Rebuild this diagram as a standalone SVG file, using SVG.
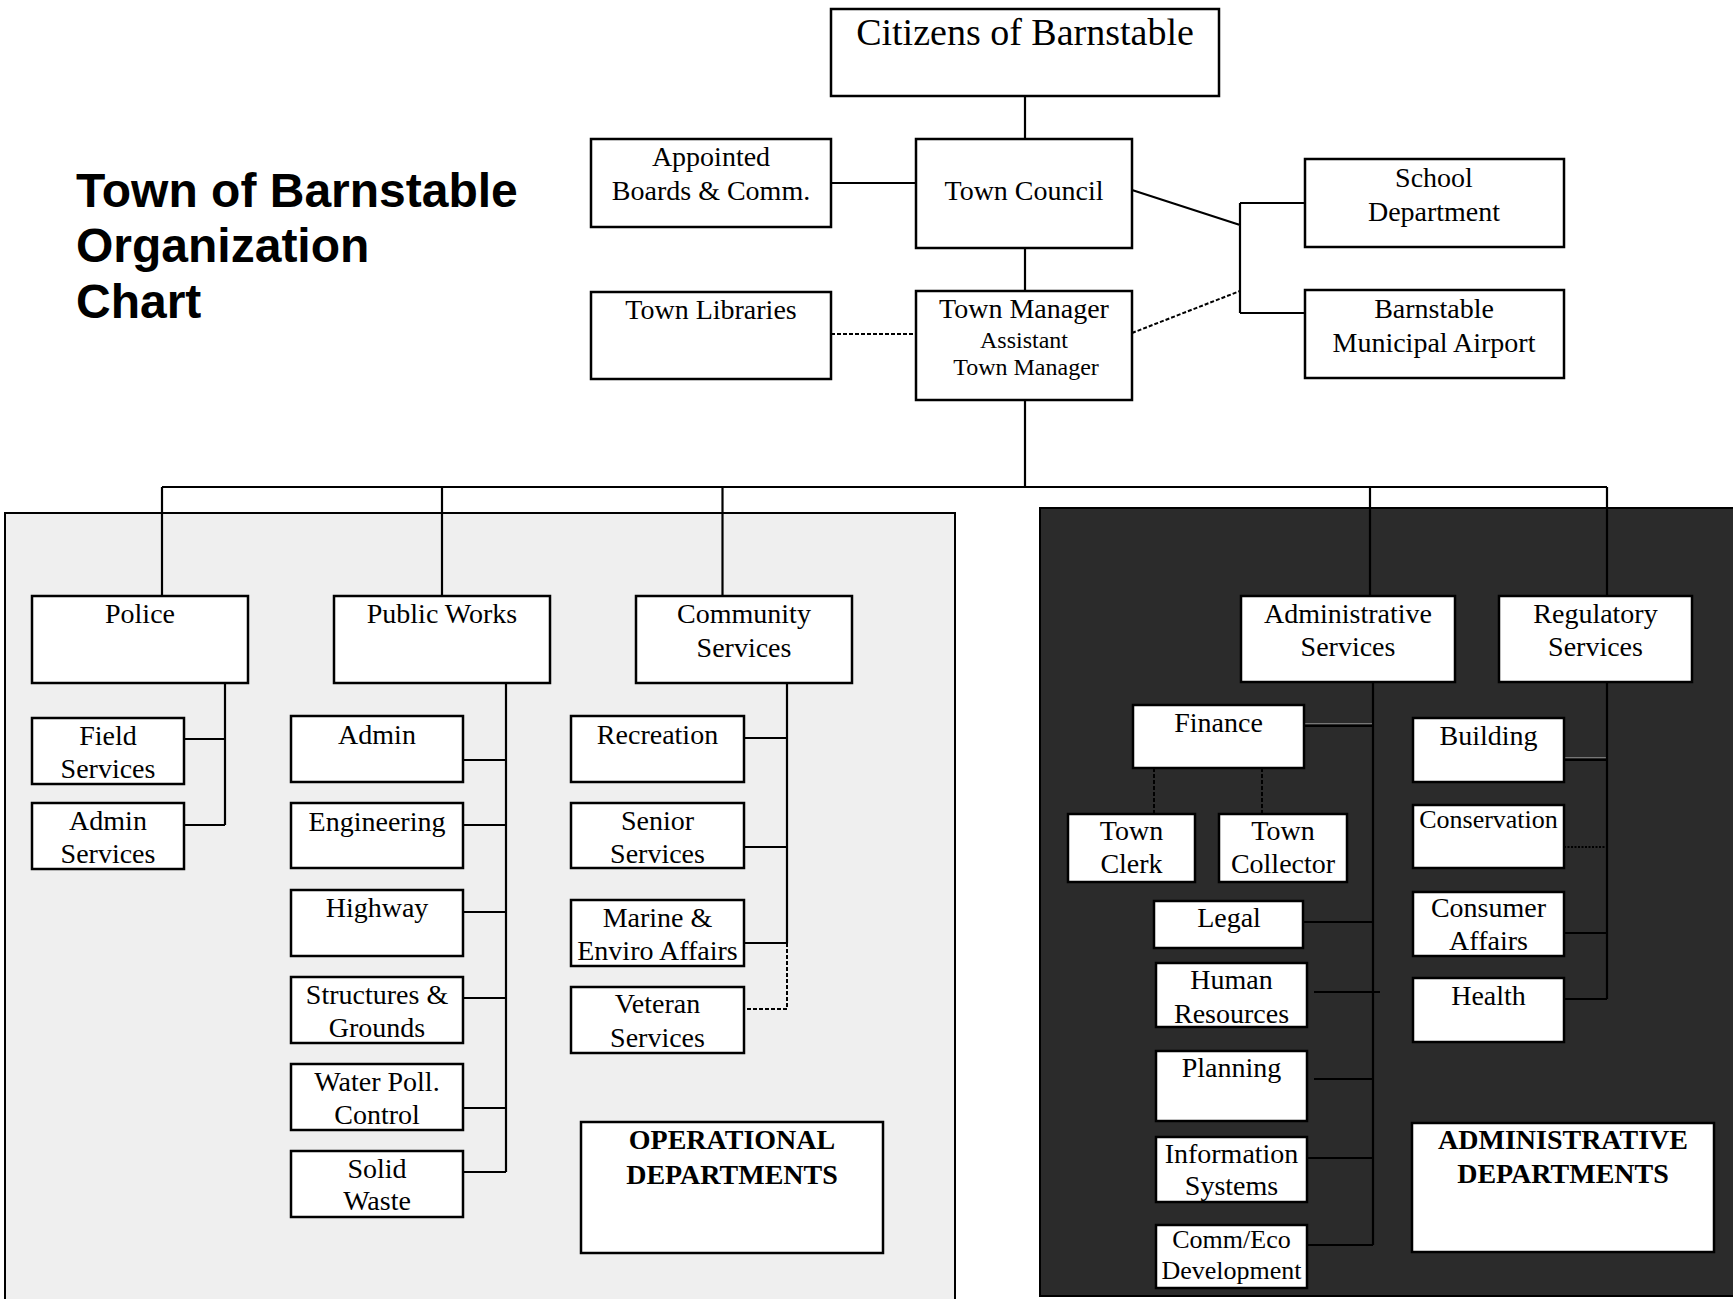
<svg xmlns="http://www.w3.org/2000/svg" width="1733" height="1299" viewBox="0 0 1733 1299">
<style>
.bx{fill:#fff;stroke:#000;stroke-width:2.5}
.t{font-family:"Liberation Serif","Times New Roman",serif;font-size:28px;fill:#000;text-anchor:middle}
.s{font-size:24px}
.m{font-size:26px}
.b{font-weight:bold}
.ln{fill:none;stroke:#000;stroke-width:2.2}
.dl{fill:none;stroke:#000;stroke-width:2;stroke-dasharray:4 2}
.hl{fill:none;stroke:#777;stroke-width:1}
.dt{fill:none;stroke:#000;stroke-width:2;stroke-dasharray:2 1.5}
.title{font-family:"Liberation Sans",Arial,sans-serif;font-weight:bold;font-size:48px;fill:#000}
</style>
<rect width="1733" height="1299" fill="#fff"/>
<g id="panels">
<rect x="5" y="513" width="950" height="800" fill="#efefef" stroke="#000" stroke-width="2"/>
<rect x="1040" y="508" width="710" height="788" fill="#2b2b2b" stroke="#000" stroke-width="2"/>
</g>
<g id="title">
<text class="title" x="76" y="207">Town of Barnstable</text>
<text class="title" x="76" y="262">Organization</text>
<text class="title" x="76" y="318">Chart</text>
</g>
<g id="connectors">
<path class="ln" d="M1025 97V139M831 183H916M1025 248V291M1132 190L1240 225M1240 203V313M1240 203H1305M1240 313H1305"/>
<path class="dl" d="M831 334H916M1132 333L1240 291"/>
<path class="ln" d="M1025 400V487M162 487H1607M162 487V596M442 487V596M722.5 487V596M1370 487V596M1607 487V596"/>
<path class="ln" d="M225 683V825M184 739H225M184 825H225"/>
<path class="ln" d="M506 683V1172M463 760H506M463 825H506M463 912H506M463 998H506M463 1108H506M463 1172H506"/>
<path class="ln" d="M787 683V943M744 738H787M744 847H787M744 943H787"/>
<path class="dl" d="M787 943V1009H744"/>
<path class="ln" d="M1373 682V1245M1303 922H1373M1314 992H1380M1314 1079H1373M1307 1158H1373M1307 1245H1373"/>
<path class="hl" d="M1305 723.5H1372M1565 757.5H1606"/>
<path class="ln" d="M1304 726H1373M1564 760H1607"/>
<path class="dl" d="M1154 768V814M1262 768V814"/>
<path class="ln" d="M1607 682V999M1564 933H1607M1564 999H1607"/>
<path class="dt" d="M1564 847H1607"/>
</g>
<g id="citizens"><rect class="bx" x="831" y="9" width="388" height="87"/><text class="t" x="1025" y="45" style="font-size:38px">Citizens of Barnstable</text></g>
<g id="appointed"><rect class="bx" x="591" y="139" width="240" height="88"/><text class="t" x="711" y="166">Appointed</text><text class="t" x="711" y="200">Boards &amp; Comm.</text></g>
<g id="council"><rect class="bx" x="916" y="139" width="216" height="109"/><text class="t" x="1024" y="200">Town Council</text></g>
<g id="libraries"><rect class="bx" x="591" y="292" width="240" height="87"/><text class="t" x="711" y="319">Town Libraries</text></g>
<g id="manager"><rect class="bx" x="916" y="291" width="216" height="109"/><text class="t" x="1024" y="318">Town Manager</text><text class="t s" x="1024" y="348">Assistant</text><text class="t s" x="1026" y="375">Town Manager</text></g>
<g id="school"><rect class="bx" x="1305" y="159" width="259" height="88"/><text class="t" x="1434" y="187">School</text><text class="t" x="1434" y="221">Department</text></g>
<g id="airport"><rect class="bx" x="1305" y="290" width="259" height="88"/><text class="t" x="1434" y="318">Barnstable</text><text class="t" x="1434" y="352">Municipal Airport</text></g>
<g id="police"><rect class="bx" x="32" y="596" width="216" height="87"/><text class="t" x="140" y="623">Police</text></g>
<g id="publicworks"><rect class="bx" x="334" y="596" width="216" height="87"/><text class="t" x="442" y="623">Public Works</text></g>
<g id="community"><rect class="bx" x="636" y="596" width="216" height="87"/><text class="t" x="744" y="623">Community</text><text class="t" x="744" y="657">Services</text></g>
<g id="field"><rect class="bx" x="32" y="718" width="152" height="66"/><text class="t" x="108" y="745">Field</text><text class="t" x="108" y="778">Services</text></g>
<g id="adminsvc"><rect class="bx" x="32" y="803" width="152" height="66"/><text class="t" x="108" y="830">Admin</text><text class="t" x="108" y="863">Services</text></g>
<g id="pwadmin"><rect class="bx" x="291" y="716" width="172" height="66"/><text class="t" x="377" y="744">Admin</text></g>
<g id="engineering"><rect class="bx" x="291" y="803" width="172" height="65"/><text class="t" x="377" y="831">Engineering</text></g>
<g id="highway"><rect class="bx" x="291" y="890" width="172" height="66"/><text class="t" x="377" y="917">Highway</text></g>
<g id="structures"><rect class="bx" x="291" y="977" width="172" height="66"/><text class="t" x="377" y="1004">Structures &amp;</text><text class="t" x="377" y="1037">Grounds</text></g>
<g id="water"><rect class="bx" x="291" y="1064" width="172" height="66"/><text class="t" x="377" y="1091">Water Poll.</text><text class="t" x="377" y="1124">Control</text></g>
<g id="solid"><rect class="bx" x="291" y="1151" width="172" height="66"/><text class="t" x="377" y="1178">Solid</text><text class="t" x="377" y="1210">Waste</text></g>
<g id="recreation"><rect class="bx" x="571" y="716" width="173" height="66"/><text class="t" x="657.5" y="744">Recreation</text></g>
<g id="senior"><rect class="bx" x="571" y="803" width="173" height="65"/><text class="t" x="657.5" y="830">Senior</text><text class="t" x="657.5" y="863">Services</text></g>
<g id="marine"><rect class="bx" x="571" y="900" width="173" height="66"/><text class="t" x="657.5" y="927">Marine &amp;</text><text class="t" x="657.5" y="960">Enviro Affairs</text></g>
<g id="veteran"><rect class="bx" x="571" y="987" width="173" height="66"/><text class="t" x="657.5" y="1013">Veteran</text><text class="t" x="657.5" y="1047">Services</text></g>
<g id="operational"><rect class="bx" x="581" y="1122" width="302" height="131"/><text class="t b" x="732" y="1149">OPERATIONAL</text><text class="t b" x="732" y="1184">DEPARTMENTS</text></g>
<g id="administrative"><rect class="bx" x="1241" y="596" width="214" height="86"/><text class="t" x="1348" y="623">Administrative</text><text class="t" x="1348" y="656">Services</text></g>
<g id="regulatory"><rect class="bx" x="1499" y="596" width="193" height="86"/><text class="t" x="1595.5" y="623">Regulatory</text><text class="t" x="1595.5" y="656">Services</text></g>
<g id="finance"><rect class="bx" x="1133" y="705" width="171" height="63"/><text class="t" x="1218.5" y="732">Finance</text></g>
<g id="clerk"><rect class="bx" x="1068" y="814" width="127" height="68"/><text class="t" x="1131.5" y="840">Town</text><text class="t" x="1131.5" y="873">Clerk</text></g>
<g id="collector"><rect class="bx" x="1219" y="814" width="128" height="68"/><text class="t" x="1283" y="840">Town</text><text class="t" x="1283" y="873">Collector</text></g>
<g id="legal"><rect class="bx" x="1154" y="901" width="149" height="47"/><text class="t" x="1229" y="927">Legal</text></g>
<g id="hr"><rect class="bx" x="1156" y="963" width="151" height="64"/><text class="t" x="1231.5" y="989">Human</text><text class="t" x="1231.5" y="1023">Resources</text></g>
<g id="planning"><rect class="bx" x="1156" y="1051" width="151" height="70"/><text class="t" x="1231.5" y="1077">Planning</text></g>
<g id="infosys"><rect class="bx" x="1156" y="1137" width="151" height="65"/><text class="t" x="1231.5" y="1163">Information</text><text class="t" x="1231.5" y="1195">Systems</text></g>
<g id="commeco"><rect class="bx" x="1156" y="1225" width="151" height="63"/><text class="t m" x="1231.5" y="1248">Comm/Eco</text><text class="t m" x="1231.5" y="1279">Development</text></g>
<g id="building"><rect class="bx" x="1413" y="718" width="151" height="64"/><text class="t" x="1488.5" y="745">Building</text></g>
<g id="conservation"><rect class="bx" x="1413" y="805" width="151" height="63"/><text class="t m" x="1488.5" y="828">Conservation</text></g>
<g id="consumer"><rect class="bx" x="1413" y="892" width="151" height="64"/><text class="t" x="1488.5" y="917">Consumer</text><text class="t" x="1488.5" y="950">Affairs</text></g>
<g id="health"><rect class="bx" x="1413" y="978" width="151" height="64"/><text class="t" x="1488.5" y="1005">Health</text></g>
<g id="admindepts"><rect class="bx" x="1412" y="1123" width="302" height="129"/><text class="t b" x="1563" y="1149">ADMINISTRATIVE</text><text class="t b" x="1563" y="1183">DEPARTMENTS</text></g>
</svg>
